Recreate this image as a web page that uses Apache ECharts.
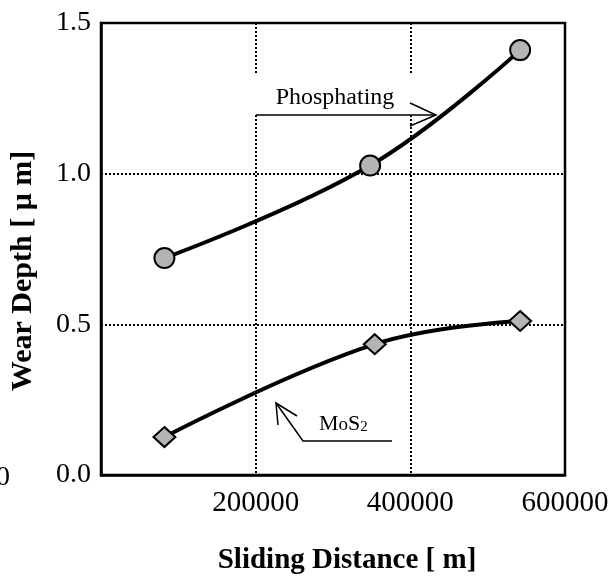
<!DOCTYPE html>
<html>
<head>
<meta charset="utf-8">
<script src="https://cdn.jsdelivr.net/npm/echarts@6/dist/echarts.min.js"></script>
<style>
html,body{margin:0;padding:0;background:#fff;}
#chart{width:613px;height:580px;}
</style>
</head>
<body>
<div id="chart"></div>
<script>
// Data
var phosphatingX = [82000, 348000, 542000];
var phosphatingY = [0.72, 1.027, 1.41];
var mos2X = [82000, 354000, 542000];
var mos2Y = [0.126, 0.434, 0.511];
var xTicks = [0, 200000, 400000, 600000];
var yTicks = [0.0, 0.5, 1.0, 1.5];
var xName = 'Sliding Distance [ m]';
var yName = 'Wear Depth [ \u03bc m]';

function pairs(xs, ys){ return xs.map(function(x,i){ return [x, ys[i]]; }); }

var FONT = '"Liberation Serif", "Times New Roman", serif';
var chart = echarts.init(document.getElementById('chart'), null, {renderer:'canvas'});

var option = {
  backgroundColor: '#fff',
  animation: false,
  grid: { left: 100, right: 48, top: 23, bottom: 93, show: true, borderColor: '#000', borderWidth: 2.5, backgroundColor: 'transparent' },
  xAxis: {
    type: 'value', min: xTicks[0], max: xTicks[xTicks.length-1], interval: 200000,
    name: xName, nameLocation: 'middle', nameGap: 71,
    nameTextStyle: { fontFamily: FONT, fontWeight: 'bold', fontSize: 29, color: '#000', padding: [0,0,0,28] },
    axisLine: { show: true, lineStyle: { color: '#000', width: 2.5 } },
    axisTick: { show: false },
    axisLabel: { fontFamily: FONT, fontSize: 29, color: '#000', margin: 14,
      formatter: function(v){ return v === 0 ? '' : String(v); } },
    splitLine: { show: true, lineStyle: { color: '#000', width: 2, type: [2,2] } }
  },
  yAxis: {
    type: 'value', min: yTicks[0], max: yTicks[yTicks.length-1], interval: 0.5,
    name: yName, nameLocation: 'middle', nameGap: 63, nameRotate: 90,
    nameTextStyle: { fontFamily: FONT, fontWeight: 'bold', fontSize: 30, color: '#000', padding: [0,44,0,0] },
    axisLine: { show: true, lineStyle: { color: '#000', width: 2.5 } },
    axisTick: { show: false },
    axisLabel: { fontFamily: FONT, fontSize: 28, color: '#000', margin: 10,
      formatter: function(v){ return v.toFixed(1); } },
    splitLine: { show: true, lineStyle: { color: '#000', width: 2, type: [2,2] } }
  },
  series: [
    {
      name: 'Phosphating', type: 'line', data: pairs(phosphatingX, phosphatingY),
      smooth: 0.4, symbol: 'circle', symbolSize: 20, showAllSymbol: true,
      lineStyle: { color: '#000', width: 4 },
      itemStyle: { color: '#b4b4b4', borderColor: '#000', borderWidth: 2 },
      z: 3
    },
    {
      name: 'MoS2', type: 'line', data: pairs(mos2X, mos2Y),
      smooth: 0.4, symbol: 'diamond', symbolSize: [22, 20], showAllSymbol: true,
      lineStyle: { color: '#000', width: 4 },
      itemStyle: { color: '#b4b4b4', borderColor: '#000', borderWidth: 2 },
      z: 3
    }
  ],
  graphic: [
    { type: 'rect', z: 1, shape: { x: 248, y: 73, width: 172, height: 41 }, style: { fill: '#fff' } },
    { type: 'line', z: 4, shape: { x1: 256, y1: 115, x2: 436, y2: 115 }, style: { stroke: '#000', lineWidth: 1.5 } },
    { type: 'polyline', z: 4, shape: { points: [[410,103],[436,115],[410,126]] }, style: { stroke: '#000', lineWidth: 1.5, fill: null } },
    { type: 'text', z: 4, x: 335, y: 98, style: { text: 'Phosphating', font: '24px ' + FONT, fill: '#000', textAlign: 'center', textVerticalAlign: 'middle' } },
    { type: 'polyline', z: 4, shape: { points: [[276,403],[303,441],[392,441]] }, style: { stroke: '#000', lineWidth: 1.5, fill: null } },
    { type: 'polyline', z: 4, shape: { points: [[278,425],[276,403],[297,416]] }, style: { stroke: '#000', lineWidth: 1.5, fill: null } },
    { type: 'text', z: 4, x: 319, y: 435, style: {
        text: '{a|M}{c|o}{a|S}{b|2}', textAlign: 'left', textVerticalAlign: 'bottom',
        rich: {
          a: { font: '22px ' + FONT, fill: '#000', color: '#000' },
          c: { font: '19px ' + FONT, fill: '#000', color: '#000', padding: [2,0,0,0] },
          b: { font: '15px ' + FONT, color: '#000', fill: '#000', padding: [6,0,0,0] }
        }
      } },
    { type: 'text', z: 4, x: 10, y: 478, style: { text: '0', font: '28px ' + FONT, fill: '#000', textAlign: 'right', textVerticalAlign: 'middle' } }
  ]
};
chart.setOption(option);
</script>
</body>
</html>
